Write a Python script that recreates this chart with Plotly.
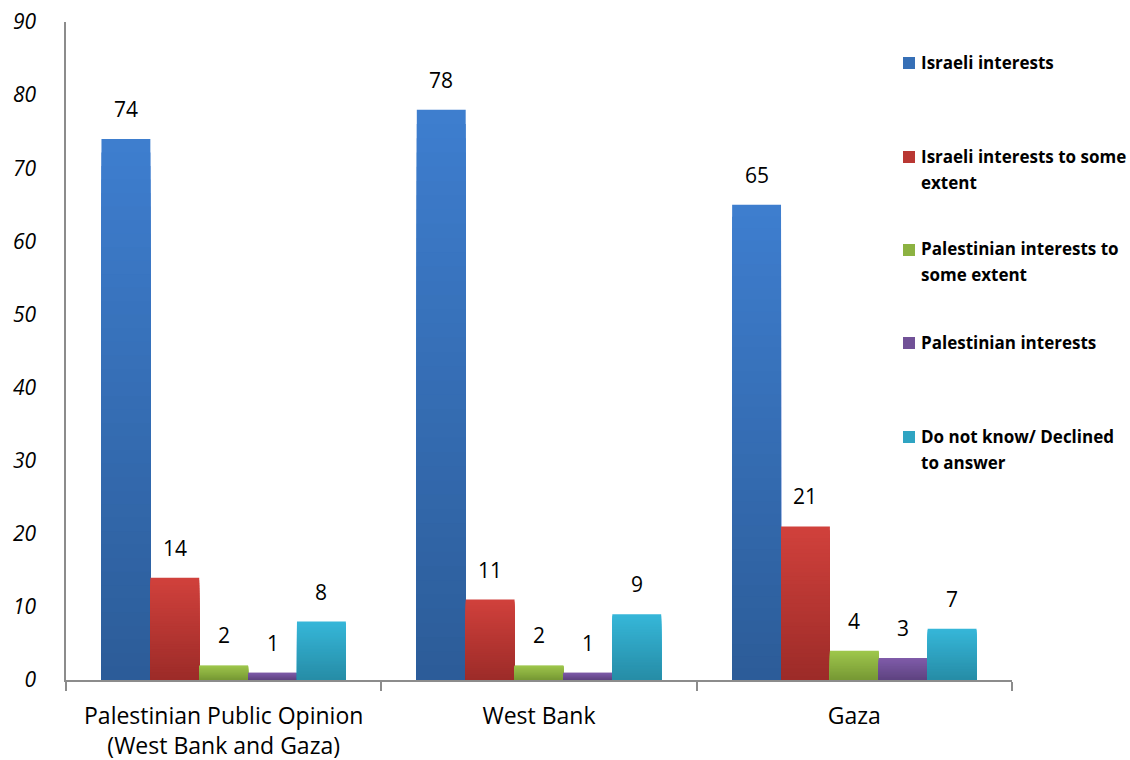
import plotly.graph_objects as go

# Survey results (%) by region
categories = ["Palestinian Public Opinion<br>(West Bank and Gaza)", "West Bank", "Gaza"]
series_names = [
    "Israeli interests",
    "Israeli interests to some extent",
    "Palestinian interests to some extent",
    "Palestinian interests",
    "Do not know/ Declined to answer",
]
israeli = [74, 78, 65]
israeli_some = [14, 11, 21]
palestinian_some = [2, 2, 4]
palestinian = [1, 1, 3]
dont_know = [8, 9, 7]
series_values = [israeli, israeli_some, palestinian_some, palestinian, dont_know]

# (top colour, bottom colour) of each series' vertical gradient
gradients = [
    ((0x3E, 0x7E, 0xCF), (0x2C, 0x5C, 0x98)),
    ((0xD1, 0x41, 0x3C), (0x9C, 0x2B, 0x28)),
    ((0x9E, 0xC7, 0x4C), (0x77, 0x98, 0x34)),
    ((0x80, 0x5C, 0xAA), (0x5E, 0x43, 0x80)),
    ((0x36, 0xB7, 0xD9), (0x26, 0x8C, 0xA6)),
]
legend_lines = [
    ["Israeli interests"],
    ["Israeli interests to some", "extent"],
    ["Palestinian interests to", "some extent"],
    ["Palestinian interests"],
    ["Do not know/ Declined", "to answer"],
]

FONT = "Open Sans, Lato, sans-serif"
W, H = 1130, 760
ML, MR, MT, MB = 66, 118, 22, 80
PW, PH = W - ML - MR, H - MT - MB
BARGAP = 0.225
N_SLICES = 40


def mix(c1, c2, t):
    return "rgb(%d,%d,%d)" % tuple(round(a + (b - a) * t) for a, b in zip(c1, c2))


fig = go.Figure()

# Each bar is painted as a stack of overlapping, progressively shorter bars
# (tallest and lightest first) so it shades from light at the top to dark at the bottom.
for si, (name, vals) in enumerate(zip(series_names, series_values)):
    top, bottom = gradients[si]
    for k in range(N_SLICES):
        share = (N_SLICES - k) / N_SLICES
        frac = (N_SLICES - k - 0.5) / N_SLICES
        fig.add_trace(go.Bar(
            x=categories,
            y=[v * share for v in vals],
            offsetgroup=str(si),
            marker=dict(color=mix(bottom, top, frac), line=dict(width=0)),
            name=name,
            showlegend=False,
            hoverinfo="skip",
        ))

# Value labels above the bars
cat_px = PW / len(categories)
bar_px = cat_px * (1 - BARGAP) / len(series_names)
for si, vals in enumerate(series_values):
    for ci, v in enumerate(vals):
        fig.add_annotation(
            x=categories[ci], y=v, xref="x", yref="y",
            text=str(v), showarrow=False,
            xshift=(si - (len(series_names) - 1) / 2) * bar_px,
            yshift=30, yanchor="middle",
            font=dict(family=FONT, size=21, color="#000"),
        )


# Legend drawn as coloured squares with bold text
def px_x(p):
    return (p - ML) / PW


def px_y(p):
    return 1 - (p - MT) / PH


legend_y = [62, 156, 249, 342, 436]
line_h = 26
for i, lines in enumerate(legend_lines):
    top, bottom = gradients[i]
    y0 = legend_y[i]
    fig.add_shape(
        type="rect", xref="paper", yref="paper",
        x0=px_x(903), x1=px_x(915), y0=px_y(y0 + 7), y1=px_y(y0 - 5),
        fillcolor=mix(bottom, top, 0.55), line=dict(width=0),
    )
    for j, line in enumerate(lines):
        fig.add_annotation(
            x=px_x(919), y=px_y(y0 + j * line_h), xref="paper", yref="paper",
            text="<b>%s</b>" % line, showarrow=False,
            xanchor="left", yanchor="middle",
            font=dict(family=FONT, size=17, color="#000"),
        )

fig.update_layout(
    width=W, height=H,
    margin=dict(l=ML, r=MR, t=MT, b=MB, autoexpand=False),
    paper_bgcolor="white", plot_bgcolor="white",
    barmode="group", bargap=BARGAP, bargroupgap=0,
    showlegend=False,
    xaxis=dict(
        showline=True, linecolor="#8c8c8c", linewidth=2,
        ticks="outside", tickson="boundaries", ticklen=9, tickcolor="#8c8c8c", tickwidth=2,
        tickfont=dict(family=FONT, size=23, color="#000"),
        ticklabelstandoff=14, automargin=False,
        showgrid=False, fixedrange=True,
    ),
    yaxis=dict(
        range=[0, 90], dtick=10,
        showline=True, linecolor="#8c8c8c", linewidth=1.5,
        ticks="", showgrid=False, zeroline=False,
        tickfont=dict(family=FONT, size=21, color="#000", style="italic"),
        ticklabelstandoff=24, automargin=False,
    ),
)

fig.write_html("out.html")
